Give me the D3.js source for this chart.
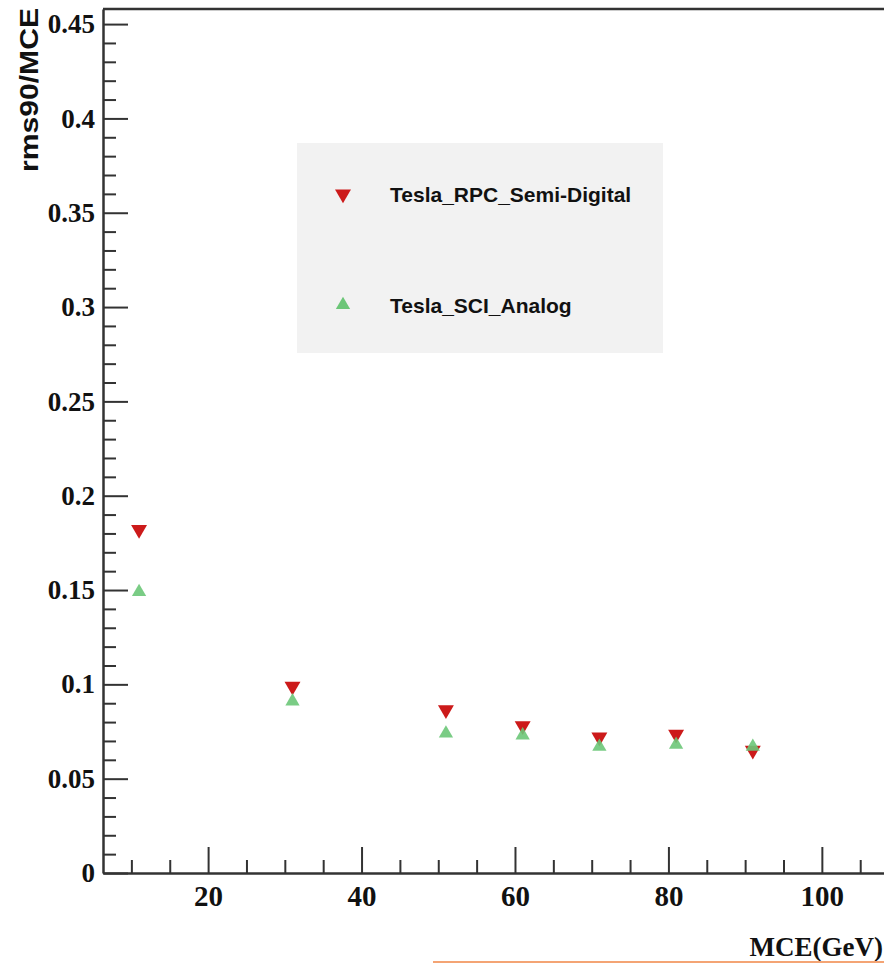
<!DOCTYPE html>
<html>
<head>
<meta charset="utf-8">
<script src="https://cdn.jsdelivr.net/npm/d3@7"></script>
<style>
  body { margin: 0; background: #fff; }
  svg { display: block; }
</style>
</head>
<body>
<script>
// values
const energies = [11, 31, 51, 61, 71, 81, 91];
const rpcSemiDigital = [0.182, 0.099, 0.0865, 0.078, 0.072, 0.0735, 0.065];
const sciAnalog = [0.149, 0.091, 0.074, 0.073, 0.067, 0.068, 0.067];
const seriesNames = ["Tesla_RPC_Semi-Digital", "Tesla_SCI_Analog"];
const xMajor = [20, 40, 60, 80, 100];
const yMajor = [0, 0.05, 0.1, 0.15, 0.2, 0.25, 0.3, 0.35, 0.4, 0.45];

const W = 884, H = 963;
const plotLeft = 103, plotRight = 884, plotTop = 9, plotBottom = 873;

const svg = d3.select("body").append("svg")
  .attr("width", W)
  .attr("height", H);

const x = d3.scaleLinear().domain([6.3, 108.1]).range([plotLeft, plotRight]);
const y = d3.scaleLinear().domain([0, 0.458]).range([plotBottom, plotTop]);

const serif = "'Liberation Serif', 'Times New Roman', serif";
const sans = "'Liberation Sans', Arial, sans-serif";

// legend box (behind everything)
svg.append("rect")
  .attr("x", 297).attr("y", 143)
  .attr("width", 366).attr("height", 210)
  .attr("fill", "#f2f2f2");

// minor ticks
let xMinor = d3.range(10, 108, 5).filter(d => !xMajor.includes(d));
svg.append("g")
  .attr("transform", "translate(0," + plotBottom + ")")
  .call(d3.axisBottom(x).tickValues(xMinor).tickSizeInner(-13).tickSizeOuter(0).tickFormat(""))
  .call(g => g.select(".domain").remove())
  .call(g => g.selectAll("line").attr("stroke", "#333").attr("stroke-width", 2));

let yMinor = d3.range(0, 46).map(d => d / 100).filter(d => Math.round(d * 100) % 5 != 0);
svg.append("g")
  .attr("transform", "translate(" + plotLeft + ",0)")
  .call(d3.axisLeft(y).tickValues(yMinor).tickSizeInner(-13).tickSizeOuter(0).tickFormat(""))
  .call(g => g.select(".domain").remove())
  .call(g => g.selectAll("line").attr("stroke", "#333").attr("stroke-width", 2));

// major axes
svg.append("g")
  .attr("transform", "translate(0," + plotBottom + ")")
  .call(d3.axisBottom(x).tickValues(xMajor).tickSizeInner(-26).tickSizeOuter(0).tickPadding(12).tickFormat(d3.format("d")))
  .call(g => g.select(".domain").attr("stroke", "#333").attr("stroke-width", 2.5))
  .call(g => g.selectAll("line").attr("stroke", "#333").attr("stroke-width", 2))
  .call(g => g.selectAll("text")
    .attr("font-family", serif).attr("font-weight", "bold")
    .attr("font-size", 29).attr("fill", "#111"));

svg.append("g")
  .attr("transform", "translate(" + plotLeft + ",0)")
  .call(d3.axisLeft(y).tickValues(yMajor).tickSizeInner(-25).tickSizeOuter(0).tickPadding(8).tickFormat(d => d3.format("")(+d.toFixed(2))))
  .call(g => g.select(".domain").attr("stroke", "#333").attr("stroke-width", 2.5))
  .call(g => g.selectAll("line").attr("stroke", "#333").attr("stroke-width", 2))
  .call(g => g.selectAll("text")
    .attr("font-family", serif).attr("font-weight", "bold")
    .attr("font-size", 27).attr("fill", "#111"));

// top frame
svg.append("line")
  .attr("x1", plotLeft).attr("x2", plotRight)
  .attr("y1", plotTop).attr("y2", plotTop)
  .attr("stroke", "#333").attr("stroke-width", 2.5);

// axis titles
svg.append("text")
  .attr("transform", "translate(38,8) rotate(-90)")
  .attr("text-anchor", "end")
  .attr("font-family", sans).attr("font-weight", "bold")
  .attr("font-size", 25)
  .attr("textLength", 164).attr("lengthAdjust", "spacingAndGlyphs")
  .attr("fill", "#111")
  .text("rms90/MCE");

svg.append("text")
  .attr("x", 883).attr("y", 956)
  .attr("text-anchor", "end")
  .attr("font-family", serif).attr("font-weight", "bold")
  .attr("font-size", 27)
  .attr("fill", "#111")
  .text("MCE(GeV)");

// orange line along the bottom edge
svg.append("line")
  .attr("x1", 433).attr("x2", W)
  .attr("y1", 962).attr("y2", 962)
  .attr("stroke", "#f4a474").attr("stroke-width", 2);

// markers
const red = "#cc1a1a", green = "#6cc678";
const triDown = d3.symbol().type(d3.symbolTriangle).size(110);
const triUp = d3.symbol().type(d3.symbolTriangle).size(88);

svg.append("g").selectAll("path")
  .data(energies).enter().append("path")
    .attr("d", triDown)
    .attr("transform", (d, i) => "translate(" + x(d) + "," + y(rpcSemiDigital[i]) + ") rotate(180)")
    .attr("fill", red);

svg.append("g").selectAll("path")
  .data(energies).enter().append("path")
    .attr("d", triUp)
    .attr("transform", (d, i) => "translate(" + x(d) + "," + y(sciAnalog[i]) + ")")
    .attr("fill", green)
    .attr("fill-opacity", 0.9);

// legend entries
const legendY = [194, 305];
svg.append("path").attr("d", triDown)
  .attr("transform", "translate(343," + legendY[0] + ") rotate(180)")
  .attr("fill", red);
svg.append("path").attr("d", triUp)
  .attr("transform", "translate(343," + legendY[1] + ")")
  .attr("fill", green);

svg.append("g").selectAll("text")
  .data(seriesNames).enter().append("text")
    .attr("x", 390)
    .attr("y", (d, i) => legendY[i] + 8)
    .attr("font-family", sans).attr("font-weight", "bold")
    .attr("font-size", 21)
    .attr("fill", "#111")
    .text(d => d);
</script>
</body>
</html>
